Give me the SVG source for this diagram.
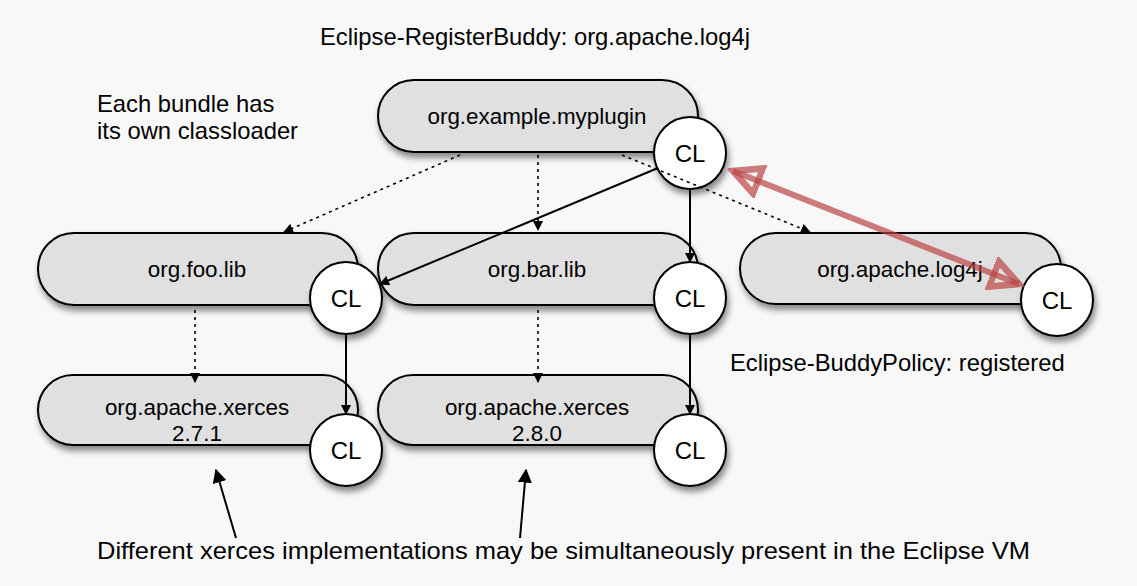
<svg xmlns="http://www.w3.org/2000/svg" width="1137" height="586" viewBox="0 0 1137 586">
<defs>
<style>
text{font-family:"Liberation Sans",Arial,sans-serif;font-size:23.8px;fill:#000}
.n{font-size:22.4px}
.k{font-size:24px}
.pill{fill:#e0e0e0;stroke:#000;stroke-width:2}
.cl{fill:#fff;stroke:#000;stroke-width:2}
.c{text-anchor:middle}
.dot{stroke:#000;stroke-width:1.6;stroke-dasharray:3,4;fill:none}
.sol{stroke:#000;stroke-width:2;fill:none}
</style>
<filter id="sh" x="-20%" y="-20%" width="140%" height="160%"><feDropShadow dx="2" dy="5" stdDeviation="3" flood-opacity="0.45"/></filter>
<marker id="ah" viewBox="0 0 10 10" refX="9" refY="5" markerWidth="10" markerHeight="10" markerUnits="userSpaceOnUse" orient="auto"><path d="M0,0L10,5L0,10z" fill="#000"/></marker>
<marker id="ah2" viewBox="0 0 10 10" refX="9" refY="5" markerWidth="14" markerHeight="14" markerUnits="userSpaceOnUse" orient="auto"><path d="M0,0L10,5L0,10z" fill="#000"/></marker>
<marker id="rh" viewBox="0 0 12 12" refX="10" refY="6" markerWidth="6" markerHeight="6" orient="auto-start-reverse"><path d="M1,1.5L10,6L1,10.5z" fill="none" stroke="#b44" stroke-opacity="0.7" stroke-width="2.2"/></marker>
</defs>
<rect width="1137" height="586" fill="#f8f8f8"/>
<text x="320" y="45">Eclipse-RegisterBuddy: org.apache.log4j</text>
<text x="97" y="112">Each bundle has</text>
<text x="97" y="139">its own classloader</text>
<text x="730" y="371">Eclipse-BuddyPolicy: registered</text>
<text x="97" y="559" textLength="933" lengthAdjust="spacingAndGlyphs">Different xerces implementations may be simultaneously present in the Eclipse VM</text>
<g id="myplugin"><rect class="pill" x="378" y="80" width="320" height="72" rx="36" filter="url(#sh)"/><text x="537" y="124" class="c n">org.example.myplugin</text><circle class="cl" cx="690" cy="153" r="36" filter="url(#sh)"/><text x="690" y="162" class="c k">CL</text></g>
<g id="foolib"><rect class="pill" x="38" y="233" width="320" height="72" rx="36" filter="url(#sh)"/><text x="197" y="277" class="c n">org.foo.lib</text><circle class="cl" cx="346" cy="298" r="36" filter="url(#sh)"/><text x="346" y="307" class="c k">CL</text></g>
<g id="barlib"><rect class="pill" x="378" y="233" width="320" height="72" rx="36" filter="url(#sh)"/><text x="537" y="277" class="c n">org.bar.lib</text><circle class="cl" cx="690" cy="298" r="36" filter="url(#sh)"/><text x="690" y="307" class="c k">CL</text></g>
<g id="log4j"><rect class="pill" x="740" y="233" width="321" height="71" rx="35.5" filter="url(#sh)"/><text x="900" y="277" class="c n">org.apache.log4j</text><circle class="cl" cx="1057" cy="300" r="36" filter="url(#sh)"/><text x="1057" y="309" class="c k">CL</text></g>
<g id="xerces271"><rect class="pill" x="38" y="375" width="320" height="70" rx="35" filter="url(#sh)"/><text x="197" y="415" class="c n">org.apache.xerces</text><text x="197" y="441" class="c n">2.7.1</text><circle class="cl" cx="346" cy="450" r="36" filter="url(#sh)"/><text x="346" y="459" class="c k">CL</text></g>
<g id="xerces280"><rect class="pill" x="378" y="375" width="320" height="70" rx="35" filter="url(#sh)"/><text x="537" y="415" class="c n">org.apache.xerces</text><text x="537" y="441" class="c n">2.8.0</text><circle class="cl" cx="690" cy="450" r="36" filter="url(#sh)"/><text x="690" y="459" class="c k">CL</text></g>
<g id="connectors">
<path class="dot" d="M460,155L284,232" marker-end="url(#ah)"/>
<path class="dot" d="M538,155L538,230" marker-end="url(#ah)"/>
<path class="dot" d="M622,155L810,232" marker-end="url(#ah)"/>
<path class="sol" d="M658,168L380,284" marker-end="url(#ah)"/>
<path class="sol" d="M690,189L690,262" marker-end="url(#ah)"/>
<path class="dot" d="M195,310L195,382" marker-end="url(#ah)"/>
<path class="sol" d="M346,334L346,414" marker-end="url(#ah)"/>
<path class="dot" d="M538,310L538,382" marker-end="url(#ah)"/>
<path class="sol" d="M690,334L690,414" marker-end="url(#ah)"/>
<path class="sol" d="M236,538L216,470" marker-end="url(#ah2)"/>
<path class="sol" d="M520,538L526,470" marker-end="url(#ah2)"/>
<path d="M733,171L1019,284" stroke="#b44" stroke-opacity="0.7" stroke-width="6" fill="none" marker-start="url(#rh)" marker-end="url(#rh)"/>
</g>
</svg>
